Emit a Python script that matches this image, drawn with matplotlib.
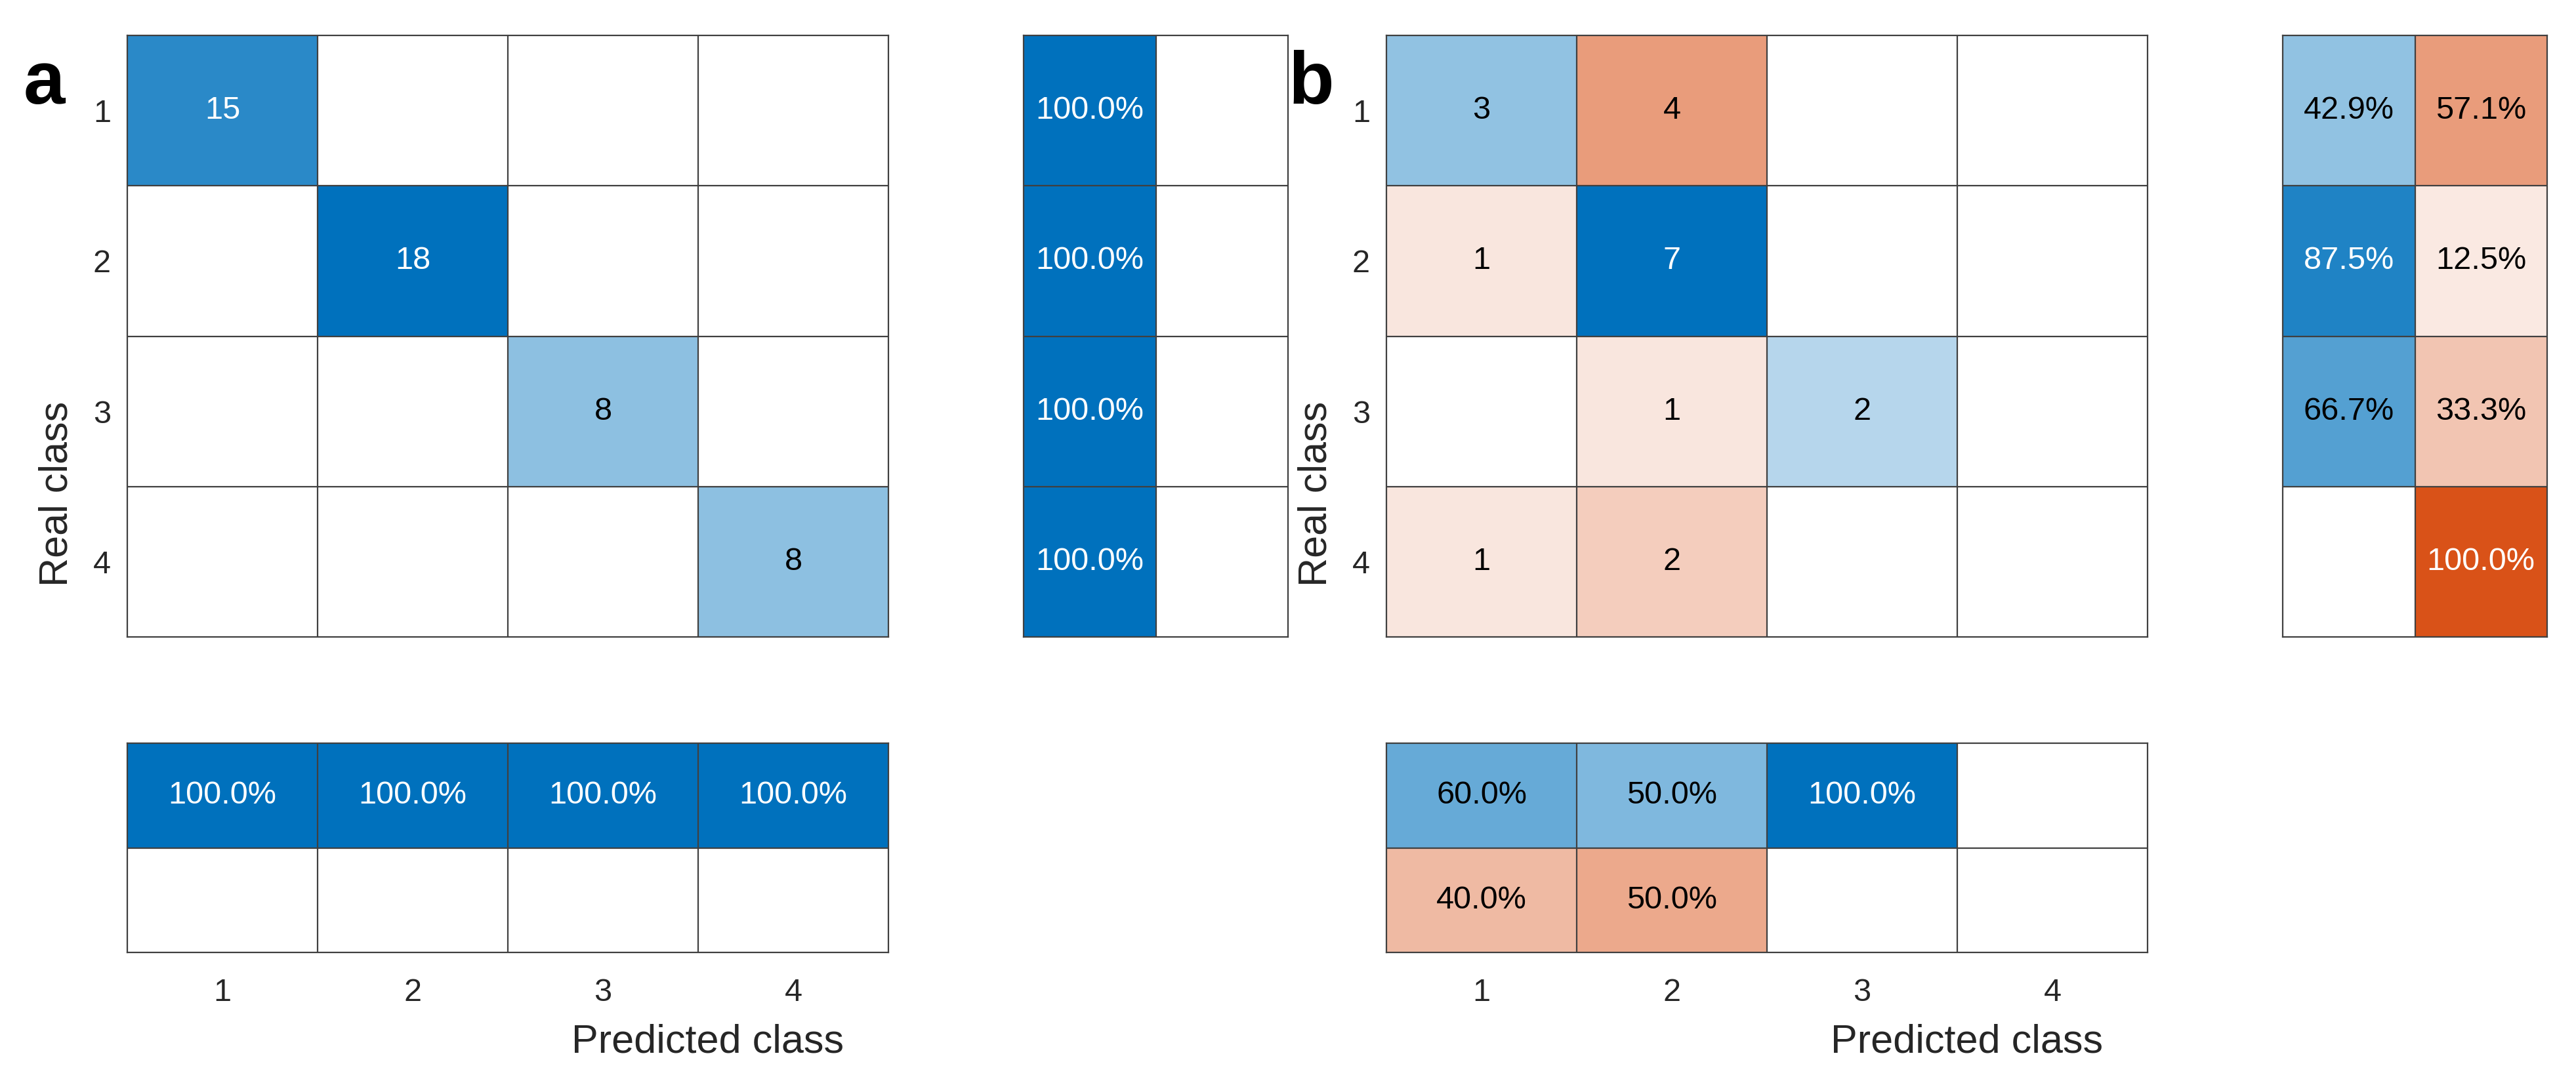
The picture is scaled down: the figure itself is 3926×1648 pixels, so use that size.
import numpy as np
import matplotlib.pyplot as plt

plt.rcParams['font.family'] = ['Liberation Sans', 'DejaVu Sans']

classes = ['1', '2', '3', '4']

# panel a: counts, row summary (correct / wrong), column summary (correct / wrong)
counts_a = [[15, 0, 0, 0],
            [0, 18, 0, 0],
            [0, 0, 8, 0],
            [0, 0, 0, 8]]
row_pct_a = [[100.0, 0], [100.0, 0], [100.0, 0], [100.0, 0]]
col_pct_a = [[100.0, 100.0, 100.0, 100.0],
             [0, 0, 0, 0]]

# panel b
counts_b = [[3, 4, 0, 0],
            [1, 7, 0, 0],
            [0, 1, 2, 0],
            [1, 2, 0, 0]]
row_pct_b = [[42.9, 57.1], [87.5, 12.5], [66.7, 33.3], [0, 100.0]]
col_pct_b = [[60.0, 50.0, 100.0, 0],
             [40.0, 50.0, 0, 0]]

BLUE = np.array([0, 114, 189]) / 255.0
RED = np.array([217, 83, 25]) / 255.0
EDGE = '#404040'
W, H = 3926, 1648
DPI = 200


def draw_cells(ax, values, correct, scale, pct):
    values = np.array(values, dtype=float)
    nr, nc = values.shape
    rgb = np.ones((nr, nc, 3))
    for i in range(nr):
        for j in range(nc):
            v = values[i, j]
            if v <= 0:
                continue
            a = v / scale
            base = BLUE if correct[i][j] else RED
            rgb[i, j] = 1 - (1 - base) * a
            txt = "%.1f%%" % v if pct else "%d" % v
            ax.text(j + 1, i + 1, txt, ha='center', va='center', fontsize=17.5,
                    color='white' if a >= 0.75 else 'black')
    ax.imshow(rgb, extent=(0.5, nc + 0.5, nr + 0.5, 0.5), aspect='auto',
              interpolation='nearest')
    for k in range(1, nc):
        ax.axvline(k + 0.5, color=EDGE, lw=0.8)
    for k in range(1, nr):
        ax.axhline(k + 0.5, color=EDGE, lw=0.8)
    for s in ax.spines.values():
        s.set_color(EDGE)
        s.set_linewidth(0.8)
    ax.set_xlim(0.5, nc + 0.5)
    ax.set_ylim(nr + 0.5, 0.5)
    ax.set_xticks([])
    ax.set_yticks([])


def panel(fig, x0, counts, row_pct, col_pct, letter, letter_x):
    # pixel boxes
    main = fig.add_axes([x0 / W, 1 - 971 / H, 1160 / W, 917 / H])
    right = fig.add_axes([(x0 + 1366) / W, 1 - 971 / H, 403 / W, 917 / H])
    bottom = fig.add_axes([x0 / W, 1 - 1452 / H, 1160 / W, 319 / H])

    n = len(counts)
    diag = [[i == j for j in range(n)] for i in range(n)]
    scale = np.max(counts)
    draw_cells(main, counts, diag, scale, False)
    draw_cells(right, row_pct, [[True, False]] * n, 100.0, True)
    draw_cells(bottom, col_pct, [[True] * n, [False] * n], 100.0, True)

    main.set_yticks(range(1, n + 1))
    main.set_yticklabels(classes)
    main.tick_params(axis='y', length=0, pad=9, labelsize=17.5, labelcolor='#262626')
    bottom.set_xticks(range(1, n + 1))
    bottom.set_xticklabels(classes)
    bottom.tick_params(axis='x', length=0, pad=14, labelsize=17.5, labelcolor='#262626')

    xc = (x0 + (x0 + 1366 + 403)) / 2 / W
    fig.text(xc, 1 - 1589 / H, 'Predicted class', ha='center', va='center',
             fontsize=22, color='#262626')
    fig.text((x0 - 107) / W, 1 - 753 / H, 'Real class', ha='center', va='center',
             rotation=90, fontsize=22, color='#262626')
    fig.text(letter_x / W, 1 - 158 / H, letter, ha='left', va='baseline',
             fontsize=41, fontweight='bold', color='black')


fig = plt.figure(figsize=(W / DPI, H / DPI), dpi=DPI)
panel(fig, 194, counts_a, row_pct_a, col_pct_a, 'a', 36)
panel(fig, 2113, counts_b, row_pct_b, col_pct_b, 'b', 1963)
fig.savefig('out.png', dpi=DPI)
